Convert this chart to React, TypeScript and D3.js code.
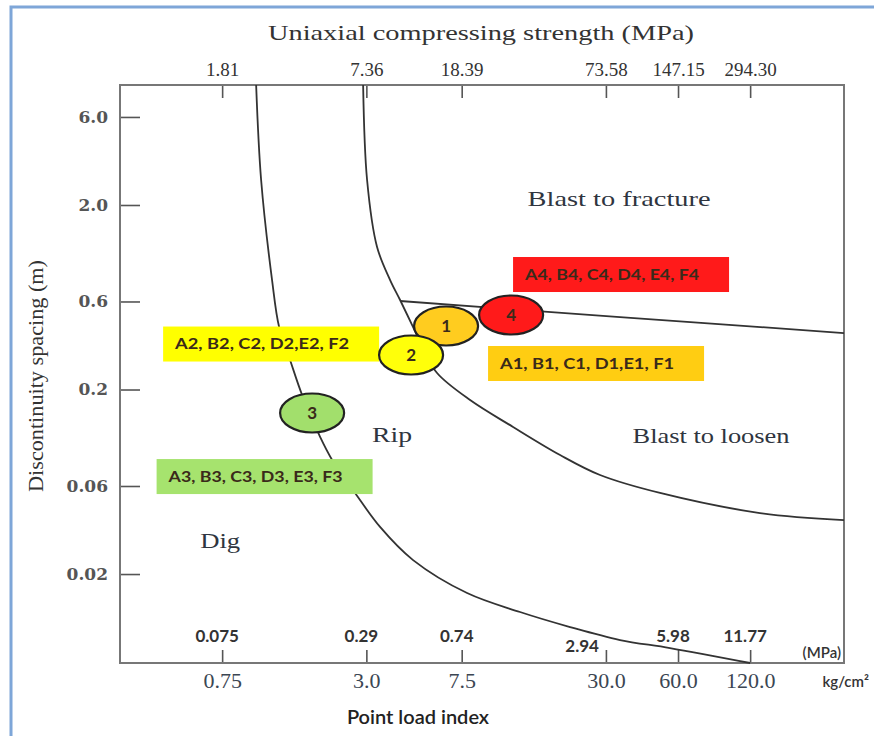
import React, { useRef, useEffect } from "react";
import * as d3 from "d3";

// point load index (kg/cm²) ticks, with the matching MPa and UCS labels
const kgTicks = [0.75, 3.0, 7.5, 30.0, 60.0, 120.0];
const kgLabels = ["0.75", "3.0", "7.5", "30.0", "60.0", "120.0"];
const mpaLabels = ["0.075", "0.29", "0.74", "2.94", "5.98", "11.77"];
const ucsLabels = ["1.81", "7.36", "18.39", "73.58", "147.15", "294.30"];

// discontinuity spacing (m)
const spacingTicks = [6.0, 2.0, 0.6, 0.2, 0.06, 0.02];
const spacingLabels = ["6.0", "2.0", "0.6", "0.2", "0.06", "0.02"];

// boundaries: [point load kg/cm², spacing m]
const digRipCurve: [number, number][] = [
  [1.04, 8.94], [1.091, 2.732], [1.212, 0.784], [1.297, 0.436], [1.441, 0.289],
  [1.618, 0.1867], [1.923, 0.1106], [2.159, 0.083], [2.692, 0.055], [3.422, 0.036],
  [4.701, 0.0238], [7.899, 0.01578], [13.14, 0.01245], [21.26, 0.01032],
  [34.37, 0.00878], [55.56, 0.00794], [120, 0.00659],
];
const ripBlastCurve: [number, number][] = [
  [2.908, 8.94], [3.021, 2.732], [3.325, 1.184], [3.77, 0.784], [4.149, 0.611],
  [4.701, 0.436], [5.226, 0.3274], [5.92, 0.2457], [8.131, 0.1754], [12.29, 0.1253],
  [19.31, 0.0883], [28.35, 0.0688], [50.47, 0.055], [131.9, 0.0428], [295.8, 0.0392],
];
const fractureLine: [number, number][] = [
  [4.149, 0.6036], [34.37, 0.494], [295.8, 0.4047],
];

// classified sites
const siteIds = ["1", "2", "4", "3"];
const siteLoad = [6.455, 4.611, 12.06, 1.781];
const siteSpacing = [0.4418, 0.3076, 0.5069, 0.1492];
const siteColors = ["#ffcc1f", "#ffff0a", "#ff1a1a", "#a2df6c"];

const groupLabels = [
  "A4, B4, C4, D4, E4, F4",
  "A2, B2, C2, D2,E2, F2",
  "A1, B1, C1, D1,E1, F1",
  "A3, B3, C3, D3, E3, F3",
];
const groupLoad = [34.7, 1.201, 27.29, 1.128];
const groupSpacing = [0.84, 0.3528, 0.2767, 0.0675];
const groupColors = ["#ff1a1a", "#ffff00", "#ffcd12", "#a6e36e"];

const regionLabels = ["Blast to fracture", "Rip", "Blast to loosen", "Dig"];
const regionLoad = [34.04, 3.841, 82.4, 0.736];
const regionSpacing = [2.156, 0.1134, 0.1122, 0.0302];

const SERIF = "'Liberation Serif', 'DejaVu Serif', serif";
const WIDE_SERIF = "'DejaVu Serif', serif";
const SANS = "Lato, 'Open Sans', sans-serif";

const App = () => {
  const svgRef = useRef<SVGSVGElement>(null);

  useEffect(() => {
    const svg = d3.select(svgRef.current);
    svg.selectAll("*").remove();

    const width = 874;
    const height = 736;
    const plot = { left: 120, right: 844, top: 85, bottom: 663 };

    svg.attr("width", width).attr("height", height);
    svg.append("rect").attr("width", width).attr("height", height).attr("fill", "#fff");

    // blue page frame
    svg.append("path")
      .attr("d", `M11,${height} V7 H${width}`)
      .attr("fill", "none")
      .attr("stroke", "#7ea6d8")
      .attr("stroke-width", 3);

    const x = d3.scaleLog().domain([0.281, 295.8]).range([plot.left, plot.right]);
    const y = d3.scaleLog().domain([0.00659, 8.94]).range([plot.bottom, plot.top]);

    const styleAxis = (g, size, family, color, weight = "normal") => {
      g.select(".domain").remove();
      g.selectAll("line").attr("stroke", "#555").attr("stroke-width", 1.6);
      g.selectAll("text")
        .attr("fill", color)
        .style("font-family", family)
        .style("font-size", size + "px")
        .style("font-weight", weight);
    };

    // left axis
    svg.append("g")
      .attr("transform", `translate(${plot.left},0)`)
      .call(d3.axisLeft(y).tickValues(spacingTicks)
        .tickFormat((d, i) => spacingLabels[i]).tickSize(-20).tickPadding(12))
      .call(g => styleAxis(g, 17, WIDE_SERIF, "#555", "bold"));

    // top axis: uniaxial compressive strength
    svg.append("g")
      .attr("transform", `translate(0,${plot.top})`)
      .call(d3.axisTop(x).tickValues(kgTicks)
        .tickFormat((d, i) => ucsLabels[i]).tickSize(-13).tickPadding(9))
      .call(g => styleAxis(g, 19, SERIF, "#333"));

    // bottom axis: kg/cm²
    svg.append("g")
      .attr("transform", `translate(0,${plot.bottom})`)
      .call(d3.axisBottom(x).tickValues(kgTicks)
        .tickFormat((d, i) => kgLabels[i]).tickSize(-13).tickPadding(9))
      .call(g => styleAxis(g, 22, SERIF, "#3b4653"));

    // MPa labels inside the bottom axis
    svg.append("g").selectAll("text")
      .data(kgTicks)
      .join("text")
      .attr("x", (d, i) => (i === 3 ? x(d) - 7 : x(d) - 5))
      .attr("y", (d, i) => (i === 3 ? plot.bottom - 11 : plot.bottom - 21))
      .attr("text-anchor", (d, i) => (i === 3 ? "end" : "middle"))
      .attr("fill", "#333")
      .style("font-family", SANS)
      .style("font-size", "17px")
      .style("font-weight", 700)
      .text((d, i) => mpaLabels[i]);

    svg.append("text")
      .attr("x", plot.right - 3).attr("y", plot.bottom - 5)
      .attr("text-anchor", "end")
      .attr("fill", "#333")
      .style("font-family", SANS).style("font-size", "15px").style("font-weight", 600)
      .text("(MPa)");

    svg.append("text")
      .attr("x", 869).attr("y", plot.bottom + 24)
      .attr("text-anchor", "end")
      .attr("fill", "#333")
      .style("font-family", SANS).style("font-size", "15px").style("font-weight", 600)
      .text("kg/cm²");

    // plot frame
    svg.append("rect")
      .attr("x", plot.left).attr("y", plot.top)
      .attr("width", plot.right - plot.left).attr("height", plot.bottom - plot.top)
      .attr("fill", "none").attr("stroke", "#777").attr("stroke-width", 2);

    // titles
    svg.append("text")
      .attr("x", 481).attr("y", 40)
      .attr("text-anchor", "middle").attr("fill", "#333")
      .attr("textLength", 426).attr("lengthAdjust", "spacingAndGlyphs")
      .style("font-family", SERIF).style("font-size", "22px")
      .text("Uniaxial compressing strength (MPa)");

    svg.append("text")
      .attr("transform", `translate(43,${(plot.top + plot.bottom) / 2 + 2}) rotate(-90)`)
      .attr("text-anchor", "middle").attr("fill", "#333")
      .attr("textLength", 232).attr("lengthAdjust", "spacingAndGlyphs")
      .style("font-family", SERIF).style("font-size", "21px")
      .text("Discontinuity spacing (m)");

    svg.append("text")
      .attr("x", 418).attr("y", 724)
      .attr("text-anchor", "middle").attr("fill", "#222")
      .style("font-family", SANS).style("font-size", "20px").style("font-weight", 600)
      .text("Point load index");

    // boundaries
    const line = d3.line().x(d => x(d[0])).y(d => y(d[1])).curve(d3.curveCatmullRom.alpha(0.5));
    [digRipCurve, ripBlastCurve, fractureLine].forEach(pts => {
      svg.append("path")
        .attr("d", line(pts))
        .attr("fill", "none")
        .attr("stroke", "#333")
        .attr("stroke-width", 1.8);
    });

    // region labels
    const regionWidths = [183, 40, 157, 40];
    svg.append("g").selectAll("text")
      .data(regionLabels)
      .join("text")
      .attr("x", (d, i) => x(regionLoad[i]))
      .attr("y", (d, i) => y(regionSpacing[i]) + 7)
      .attr("text-anchor", "middle")
      .attr("textLength", (d, i) => regionWidths[i])
      .attr("lengthAdjust", "spacingAndGlyphs")
      .attr("fill", "#2f3540")
      .style("font-family", SERIF).style("font-size", "21px")
      .text(d => d);

    // group boxes
    const boxW = 216;
    const boxH = 35;
    const boxes = svg.append("g").selectAll("g")
      .data(groupLabels)
      .join("g")
      .attr("transform", (d, i) =>
        `translate(${x(groupLoad[i]) - boxW / 2},${y(groupSpacing[i]) - boxH / 2})`);
    boxes.append("rect")
      .attr("width", boxW).attr("height", boxH)
      .attr("fill", (d, i) => groupColors[i]);
    boxes.append("text")
      .attr("x", 12).attr("y", boxH / 2 + 5)
      .attr("textLength", 174).attr("lengthAdjust", "spacingAndGlyphs")
      .attr("fill", "#3a2a1a")
      .style("font-family", SANS).style("font-size", "14.5px").style("font-weight", 700)
      .text(d => d);

    // sites
    const sites = svg.append("g").selectAll("g")
      .data(siteIds)
      .join("g")
      .attr("transform", (d, i) => `translate(${x(siteLoad[i])},${y(siteSpacing[i])})`);
    sites.append("ellipse")
      .attr("rx", 32).attr("ry", 19.5)
      .attr("fill", (d, i) => siteColors[i])
      .attr("stroke", "#222").attr("stroke-width", 2.2);
    sites.append("text")
      .attr("text-anchor", "middle").attr("y", 6)
      .attr("fill", "#3a2a1a")
      .style("font-family", SANS).style("font-size", "17px").style("font-weight", 700)
      .text(d => d);
  }, []);

  return (
    <div style={{ position: "absolute", left: 0, top: 0 }}>
      <svg ref={svgRef} style={{ display: "block" }}></svg>
    </div>
  );
};

export default App;
